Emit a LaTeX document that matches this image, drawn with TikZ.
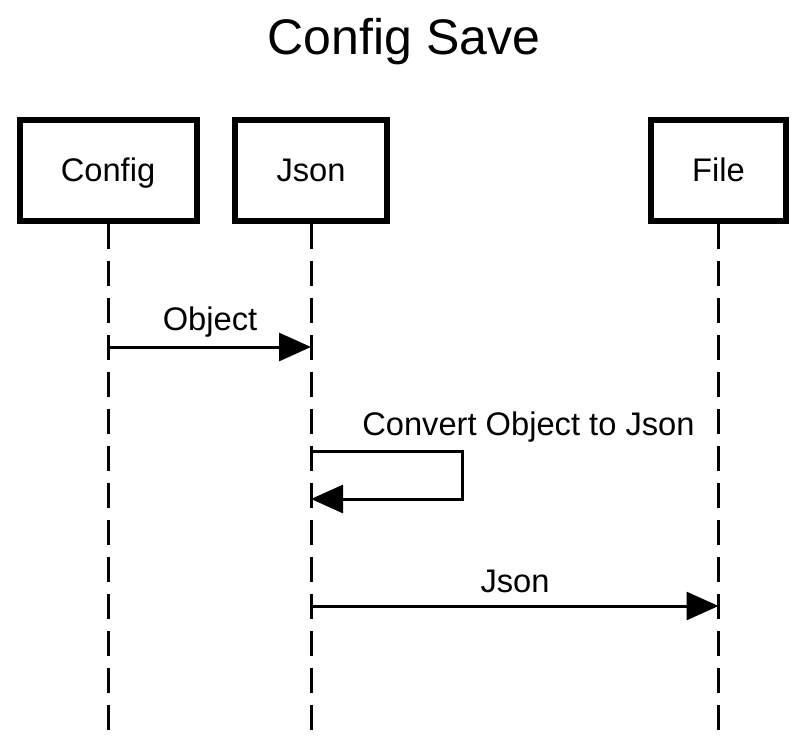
\documentclass[tikz,border=0pt]{standalone}
\usepackage{fontspec}
\setmainfont{Liberation Sans}
\usepackage{tikz}
\usetikzlibrary{positioning,arrows.meta}

\begin{document}
\begin{tikzpicture}[
	x=0.75pt, y=-0.75pt,
	actor/.style={rectangle, draw=black, line width=4.5pt, minimum height=75.75pt, inner sep=0pt, text height=20pt, text depth=2.75pt, font=\fontsize{24.5}{28}\selectfont},
	lifeline/.style={line width=2.25pt, dash pattern=on 18.75pt off 9pt},
	msg/.style={-{Triangle[length=24pt,width=21pt]}, line width=2.25pt},
	label/.style={font=\fontsize{24.5}{28}\selectfont, inner sep=0pt},
	]
	\useasboundingbox (0,0) rectangle (805,737);
	
	%Title
	\node[font=\fontsize{37.5}{44}\selectfont] (title) at (404,42) {Config Save};
	
	%Nodes
	\node[actor, minimum width=132.75pt] (config) at (108,170.5)   {Config};
	\node[actor, minimum width=114pt]    (json)   at (311,170.5)   {Json};
	\node[actor, minimum width=101.25pt] (file)   at (718.5,170.5) {File};
	
	\coordinate (configEnd) at (108,737);
	\coordinate (jsonEnd)   at (311,737);
	\coordinate (fileEnd)   at (718.5,737);
	
	\coordinate (c1) at (108,347);
	\coordinate (j1) at (311,347);
	\coordinate (j2) at (311,451);
	\coordinate (s1) at (462,451);
	\coordinate (s2) at (462,499);
	\coordinate (j3) at (311,499);
	\coordinate (j4) at (311,606);
	\coordinate (f1) at (718.5,606);
	
	%Lifelines
	\draw[lifeline] (config) -- (configEnd);
	\draw[lifeline] (json) -- (jsonEnd);
	\draw[lifeline] (file) -- (fileEnd);
	
	%Lines
	\draw[msg] (c1) -- (j1);
	\draw[msg] (j2) -- (s1) -- (s2) -- (j3);
	\draw[msg] (j4) -- (f1);
	
	%Labels
	\node[label] (objLabel)  at (210,322)  {Object};
	\node[label, anchor=west] (convLabel) at (362,427) {Convert Object to Json};
	\node[label] (jsonLabel) at (515,581)  {Json};
\end{tikzpicture}
\end{document}
